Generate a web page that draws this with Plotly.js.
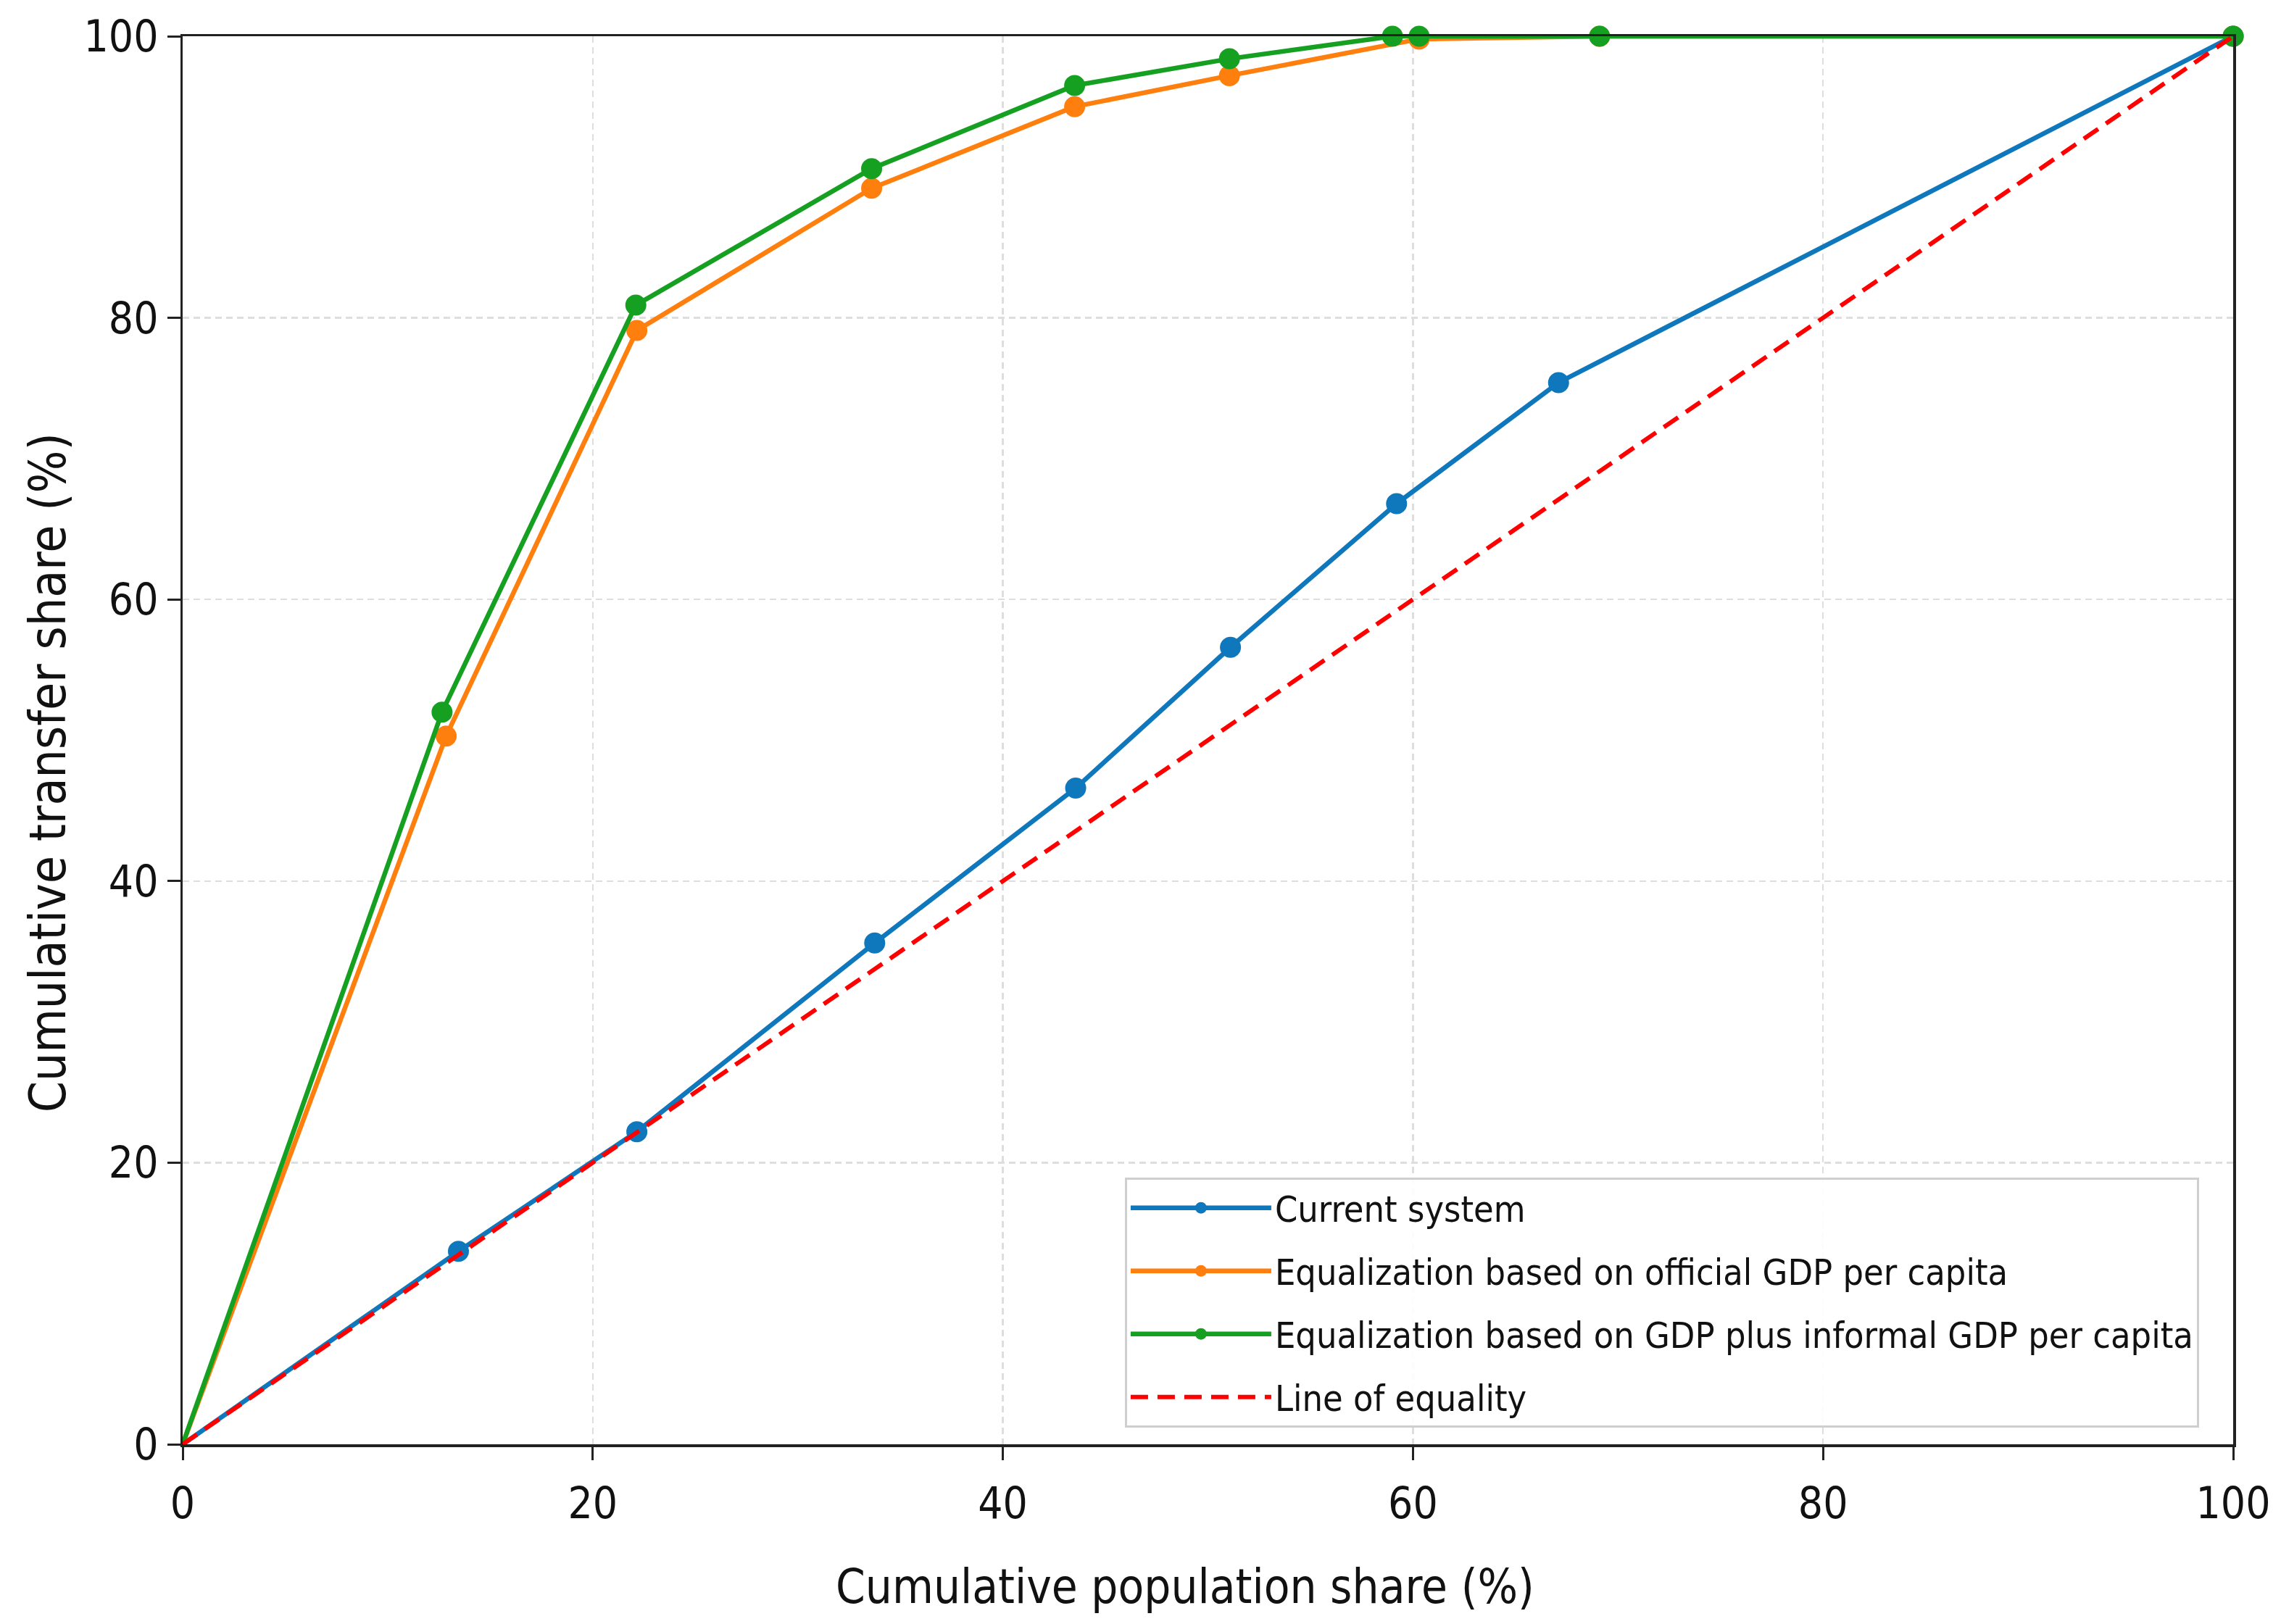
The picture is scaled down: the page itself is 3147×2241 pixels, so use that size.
<!DOCTYPE html>
<html>
<head>
<meta charset="utf-8">
<script src="https://cdn.plot.ly/plotly-3.0.1.min.js"></script>
<style>
  html, body { margin: 0; padding: 0; background: #fff; }
  #chart { width: 3147px; height: 2241px; }
</style>
</head>
<body>
<div id="chart"></div>
<script>
// values (first point is the origin, drawn without a marker)
var currentX = [0, 13.45, 22.15, 33.75, 43.55, 51.1, 59.2, 67.1, 100];
var currentY = [0, 13.7, 22.2, 35.6, 46.6, 56.6, 66.8, 75.4, 100];

var officialX = [0, 12.85, 22.15, 33.6, 43.5, 51.05, 60.3, 69.1, 100];
var officialY = [0, 50.3, 79.1, 89.2, 95.0, 97.2, 99.8, 100, 100];

var informalX = [0, 12.65, 22.1, 33.6, 43.5, 51.05, 59.0, 60.3, 69.1, 100];
var informalY = [0, 52.0, 80.9, 90.6, 96.5, 98.4, 100, 100, 100, 100];

var equalityX = [0, 100];
var equalityY = [0, 100];

var seriesNames = [
  'Current system',
  'Equalization based on official GDP per capita',
  'Equalization based on GDP plus informal GDP per capita',
  'Line of equality'
];
var xTitle = 'Cumulative population share (%)';
var yTitle = 'Cumulative transfer share (%)';

var FONT = '"DejaVu Sans Condensed", "Liberation Sans Narrow", "DejaVu Sans", sans-serif';

// line from the origin to the first marker, kept out of the legend
function originLink(x, y, group, color){
  return {
    x: x.slice(0, 2), y: y.slice(0, 2),
    type: 'scatter', mode: 'lines',
    legendgroup: group, showlegend: false,
    line: {color: color, width: 6.5},
    hoverinfo: 'skip'
  };
}

function markedLine(x, y, name, group, color){
  return {
    x: x.slice(1), y: y.slice(1), name: name,
    type: 'scatter', mode: 'lines+markers',
    legendgroup: group,
    line: {color: color, width: 6.5},
    marker: {color: color, size: 29},
    cliponaxis: false
  };
}

var blue = '#0f77bb', orange = '#ff7f0e', green = '#16a021';

var data = [
  originLink(currentX, currentY, 'g1', blue),
  markedLine(currentX, currentY, seriesNames[0], 'g1', blue),
  originLink(officialX, officialY, 'g2', orange),
  markedLine(officialX, officialY, seriesNames[1], 'g2', orange),
  originLink(informalX, informalY, 'g3', green),
  markedLine(informalX, informalY, seriesNames[2], 'g3', green),
  {
    x: equalityX, y: equalityY, name: seriesNames[3],
    type: 'scatter', mode: 'lines', legendgroup: 'g4',
    line: {color: '#ff0000', width: 6, dash: '24px,13px'}
  }
];

var axisCommon = {
  range: [0, 100],
  dtick: 20,
  showline: true, mirror: true,
  linecolor: '#222', linewidth: 3.5,
  ticks: 'outside', ticklen: 18, tickwidth: 3, tickcolor: '#222',
  showgrid: true, gridcolor: '#dedede', gridwidth: 2.5, griddash: '9px,6px',
  zeroline: false,
  tickfont: {family: FONT, size: 60, color: '#111'}
};

var layout = {
  width: 3147, height: 2241,
  margin: {l: 252, r: 66, t: 50, b: 248},
  paper_bgcolor: '#fff', plot_bgcolor: '#fff',
  font: {family: FONT, color: '#111'},
  showlegend: true,
  legend: {
    x: 0.4595, y: 0.012, xanchor: 'left', yanchor: 'bottom',
    bgcolor: 'rgba(255,255,255,0.9)',
    bordercolor: '#cfcfcf', borderwidth: 3,
    font: {family: FONT, size: 50, color: '#111'},
    itemwidth: 194,
    tracegroupgap: 19
  },
  xaxis: Object.assign({}, axisCommon, {ticklabelstandoff: 8}),
  yaxis: Object.assign({}, axisCommon),
  // axis titles placed where the reference has them
  annotations: [
    {
      text: xTitle, xref: 'paper', yref: 'paper',
      x: 0.4889, y: -0.081, xanchor: 'center', yanchor: 'top',
      showarrow: false, font: {family: FONT, size: 65, color: '#111'}
    },
    {
      text: yTitle, xref: 'paper', yref: 'paper', textangle: -90,
      x: -0.0657, y: 0.477, xanchor: 'center', yanchor: 'middle',
      showarrow: false, font: {family: FONT, size: 69, color: '#111'}
    }
  ]
};

Plotly.newPlot('chart', data, layout, {staticPlot: true});
</script>
</body>
</html>
